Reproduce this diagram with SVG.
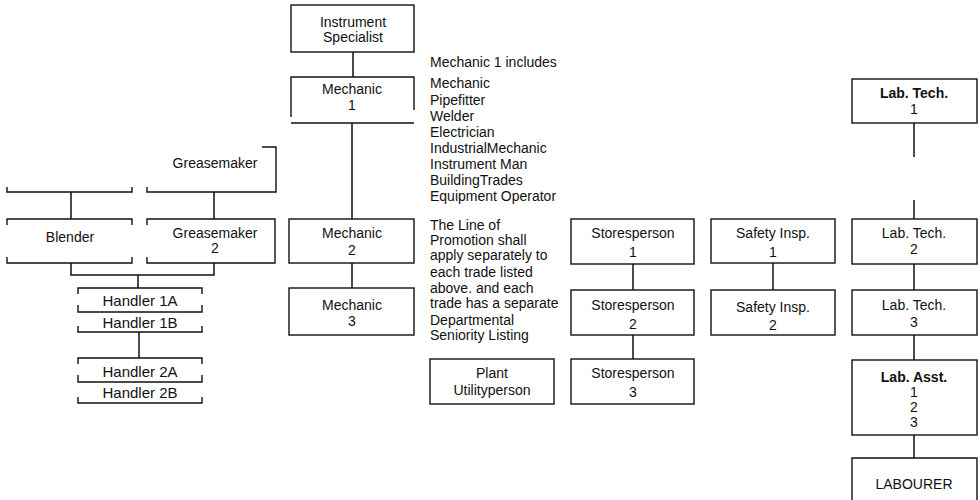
<svg xmlns="http://www.w3.org/2000/svg" width="980" height="500" viewBox="0 0 980 500">
<style>
.b{fill:none;stroke:#111;stroke-width:1.4}
.c{fill:none;stroke:#111;stroke-width:1.5}
text{font-family:"Liberation Sans",Arial,sans-serif;font-size:14px;fill:#111}
.m{text-anchor:middle}
.h{font-size:15px}
.bd{font-weight:bold}
</style>
<rect width="980" height="500" fill="#fff"/>
<g id="connectors">
<path class="c" d="M71,192V219M214,192V219M71,263V275H214V263M138,275V288"/>
<path class="c" d="M139,332V358"/>
<path class="c" d="M353,52V77M352,123V219M352,263V288"/>
<path class="c" d="M633,264V290M633,335V359"/>
<path class="c" d="M773,263V290"/>
<path class="c" d="M914,123V157M914,200V219M914,264V290M914,335V360M914,435V458"/>
</g>
<g id="greasemaker1">
<path class="b" d="M147,187V192H276V147H262"/>
<text class="m" x="215" y="168">Greasemaker</text>
</g>
<g id="blender-top">
<path class="b" d="M7,187V192H132V187"/>
</g>
<g id="blender">
<path class="b" d="M7,225V219H132V225M7,257V263H132V257"/>
<text class="m" x="70" y="242">Blender</text>
</g>
<g id="greasemaker2">
<path class="b" d="M147,225V219H275V263H147V257"/>
<text class="m" x="215" y="238">Greasemaker</text>
<text class="m" x="215" y="253">2</text>
</g>
<g id="handler1">
<path class="b" d="M78,294V288H202V294M78,305V312H202V305M78,326V332H202V326"/>
<text class="m h" x="140" y="306">Handler 1A</text>
<text class="m h" x="140" y="328">Handler 1B</text>
</g>
<g id="handler2">
<path class="b" d="M78,364V358H202V364M78,375V382H202V375M78,397V403H202V397"/>
<text class="m h" x="140" y="377">Handler 2A</text>
<text class="m h" x="140" y="398">Handler 2B</text>
</g>
<g id="instrument-specialist">
<rect class="b" x="291" y="5" width="123" height="47"/>
<text class="m" x="353" y="27">Instrument</text>
<text class="m" x="353" y="42">Specialist</text>
</g>
<g id="mechanic1">
<path class="b" d="M291,117V77H414V110M291,123H414"/>
<text class="m" x="352" y="94">Mechanic</text>
<text class="m" x="352" y="110">1</text>
</g>
<g id="mechanic1-note">
<text x="430" y="67">Mechanic 1 includes</text>
<text x="430" y="88">Mechanic</text>
<text x="430" y="105">Pipefitter</text>
<text x="430" y="121">Welder</text>
<text x="430" y="137">Electrician</text>
<text x="430" y="153">IndustrialMechanic</text>
<text x="430" y="169">Instrument Man</text>
<text x="430" y="185">BuildingTrades</text>
<text x="430" y="201">Equipment Operator</text>
</g>
<g id="promotion-note">
<text x="430" y="230">The Line of</text>
<text x="430" y="245">Promotion shall</text>
<text x="430" y="260">apply separately to</text>
<text x="430" y="277">each trade listed</text>
<text x="430" y="293">above. and each</text>
<text x="430" y="308">trade has a separate</text>
<text x="430" y="325">Departmental</text>
<text x="430" y="340">Seniority Listing</text>
</g>
<g id="mechanic2">
<rect class="b" x="289" y="219" width="125" height="44"/>
<text class="m" x="352" y="238">Mechanic</text>
<text class="m" x="352" y="255">2</text>
</g>
<g id="mechanic3">
<rect class="b" x="289" y="288" width="125" height="47"/>
<text class="m" x="352" y="310">Mechanic</text>
<text class="m" x="352" y="326">3</text>
</g>
<g id="plant-utilityperson">
<rect class="b" x="430" y="359" width="124" height="45"/>
<text class="m" x="492" y="378">Plant</text>
<text class="m" x="492" y="395">Utilityperson</text>
</g>
<g id="storesperson1">
<rect class="b" x="571" y="219" width="123" height="45"/>
<text class="m" x="633" y="238">Storesperson</text>
<text class="m" x="633" y="257">1</text>
</g>
<g id="storesperson2">
<rect class="b" x="571" y="290" width="123" height="45"/>
<text class="m" x="633" y="310">Storesperson</text>
<text class="m" x="633" y="329">2</text>
</g>
<g id="storesperson3">
<rect class="b" x="571" y="359" width="123" height="45"/>
<text class="m" x="633" y="378">Storesperson</text>
<text class="m" x="633" y="397">3</text>
</g>
<g id="safety1">
<rect class="b" x="711" y="219" width="124" height="44"/>
<text class="m" x="773" y="238">Safety Insp.</text>
<text class="m" x="773" y="257">1</text>
</g>
<g id="safety2">
<rect class="b" x="711" y="290" width="124" height="45"/>
<text class="m" x="773" y="312">Safety Insp.</text>
<text class="m" x="773" y="330">2</text>
</g>
<g id="labtech1">
<rect class="b" x="852" y="79" width="125" height="44"/>
<text class="m bd" x="914" y="98">Lab. Tech.</text>
<text class="m" x="914" y="114">1</text>
</g>
<g id="labtech2">
<rect class="b" x="852" y="219" width="125" height="45"/>
<text class="m" x="914" y="238">Lab. Tech.</text>
<text class="m" x="914" y="254">2</text>
</g>
<g id="labtech3">
<rect class="b" x="852" y="290" width="125" height="45"/>
<text class="m" x="914" y="310">Lab. Tech.</text>
<text class="m" x="914" y="327">3</text>
</g>
<g id="labasst">
<rect class="b" x="852" y="360" width="125" height="75"/>
<text class="m bd" x="914" y="382">Lab. Asst.</text>
<text class="m" x="914" y="397">1</text>
<text class="m" x="914" y="412">2</text>
<text class="m" x="914" y="427">3</text>
</g>
<g id="labourer">
<path class="b" d="M852,502V458H977V502"/>
<text class="m" x="914" y="489">LABOURER</text>
</g>
</svg>
